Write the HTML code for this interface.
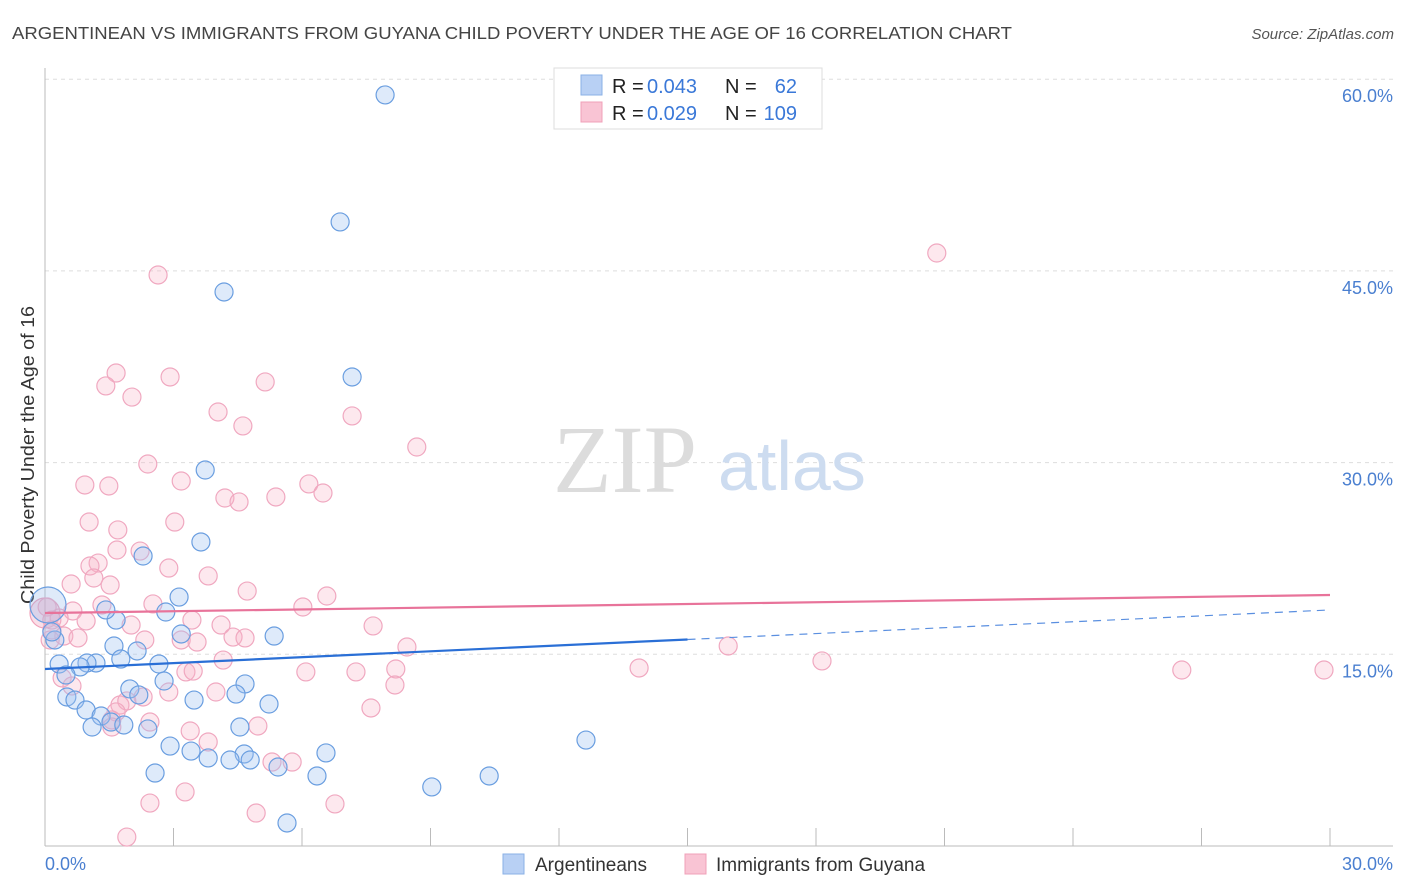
<!DOCTYPE html>
<html><head><meta charset="utf-8">
<style>
body{margin:0;background:#fff;font-family:"Liberation Sans",sans-serif;}
svg{display:block}
</style></head>
<body>
<svg width="1406" height="892" xmlns="http://www.w3.org/2000/svg" font-family="Liberation Sans, sans-serif">
<text x="12" y="39" font-size="17.5" fill="#444" textLength="1000" lengthAdjust="spacingAndGlyphs">ARGENTINEAN VS IMMIGRANTS FROM GUYANA CHILD POVERTY UNDER THE AGE OF 16 CORRELATION CHART</text>
<text x="1394" y="39" font-size="15" fill="#555" font-style="italic" text-anchor="end">Source: ZipAtlas.com</text>
<g id="grid"></g>
<g>
<text x="553" y="492" font-size="96" font-family="Liberation Serif, serif" fill="#dcdcdc">ZIP</text>
<text x="718" y="490" font-size="70" fill="#cddcf0">atlas</text>
</g>
<text transform="translate(34,455) rotate(-90)" font-size="18" fill="#333" text-anchor="middle" textLength="298" lengthAdjust="spacingAndGlyphs">Child Poverty Under the Age of 16</text>
<g id="marks"></g>
<g>
<rect x="554" y="68" width="268" height="61" fill="#fff" stroke="#ddd"/>
<rect x="581" y="75" width="21" height="20" fill="#b8d0f4" stroke="#8ab0e6"/>
<rect x="581" y="102" width="21" height="20" fill="#f9c4d4" stroke="#f0a0b8"/>
<text x="612" y="93" font-size="20" fill="#222">R =</text>
<text x="647" y="93" font-size="20" fill="#3a78d8">0.043</text>
<text x="725" y="93" font-size="20" fill="#222">N =</text>
<text x="797" y="93" font-size="20" fill="#3a78d8" text-anchor="end">62</text>
<text x="612" y="120" font-size="20" fill="#222">R =</text>
<text x="647" y="120" font-size="20" fill="#3a78d8">0.029</text>
<text x="725" y="120" font-size="20" fill="#222">N =</text>
<text x="797" y="120" font-size="20" fill="#3a78d8" text-anchor="end">109</text>
</g>
<g>
<rect x="503" y="854" width="21" height="20" fill="#b8d0f4" stroke="#8ab0e6"/>
<text x="535" y="871" font-size="19" fill="#333">Argentineans</text>
<rect x="685" y="854" width="21" height="20" fill="#f9c4d4" stroke="#f0a0b8"/>
<text x="716" y="871" font-size="19" fill="#333">Immigrants from Guyana</text>
</g>
</svg>
<script>
const yTicks=[15,30,45,60];
const yTickLabels=["15.0%","30.0%","45.0%","60.0%"];
const xTicks=[0,3,6,9,12,15,18,21,24,27,30];
const blueX=[7.94,6.89,4.18,7.17,3.74,3.64,2.29,3.13,2.82,1.66,1.42,3.18,5.35,1.61,2.15,1.77,1.19,0.33,0.98,0.82,2.66,0.49,4.67,2.78,1.98,0.51,0.70,2.19,4.46,3.48,5.23,0.96,1.31,1.54,1.10,1.84,2.40,4.55,2.92,3.41,4.65,6.56,3.81,4.32,4.79,2.57,6.35,5.44,12.63,10.37,9.03,5.65,0.23,0.16];
const blueY=[58.77,48.83,43.35,36.70,29.42,23.79,22.69,19.48,18.31,17.68,18.47,16.59,16.43,15.65,15.26,14.63,14.32,14.24,14.32,14.01,14.24,13.38,12.68,12.91,12.29,11.66,11.42,11.82,11.89,11.42,11.11,10.64,10.17,9.70,9.31,9.47,9.16,9.31,7.82,7.43,7.20,7.28,6.89,6.73,6.73,5.71,5.48,6.18,8.29,5.48,4.62,1.80,16.12,16.75];
const pinkX=[20.82,2.64,1.66,1.42,2.92,5.14,2.03,4.04,4.62,7.17,8.68,2.40,0.93,1.49,3.18,6.16,4.20,4.53,5.39,6.49,1.03,3.03,1.70,1.68,2.22,1.24,1.05,2.89,3.81,1.14,1.52,0.61,4.72,6.58,2.52,1.33,0.65,6.02,3.43,4.11,7.66,0.33,0.96,2.01,2.33,3.18,3.55,4.39,4.67,8.45,0.16,0.44,0.77,0.12,15.95,4.16,18.14,13.87,26.54,29.86,6.09,7.26,8.19,3.29,3.46,0.40,0.63,3.99,2.89,2.29,8.17,1.75,1.91,1.66,1.56,2.45,4.97,3.39,3.81,5.30,5.77,7.61,1.56,2.45,3.27,4.93,6.77,1.91,0.05,0.16];
const pinkY=[46.40,44.68,37.01,36.0,36.70,36.31,35.13,33.96,32.87,33.65,31.22,29.89,28.25,28.17,28.56,28.33,27.23,26.92,27.31,27.62,25.35,25.35,24.73,23.16,23.08,22.14,21.91,21.75,21.13,20.97,20.42,20.50,19.95,19.56,18.94,18.86,18.39,18.70,17.68,17.29,17.22,17.84,17.61,17.29,16.12,16.12,15.96,16.35,16.28,15.57,16.90,16.43,16.28,16.12,15.65,14.55,14.48,13.93,13.77,13.77,13.62,13.62,13.85,13.62,13.69,13.15,12.52,12.05,12.05,11.66,12.60,11.03,11.35,10.49,9.86,9.70,9.39,9.00,8.14,6.57,6.57,10.80,9.31,3.36,4.23,2.58,3.29,0.70,18.70,17.68];
const bigBlue=[0.07,18.86];
const bigPink=[0,18.23];
const blueTrend=[13.85,18.47];
const pinkTrend=[18.23,19.64];
const blueSolidEnd=15;

const NS="http://www.w3.org/2000/svg";
const X0=45,X1=1330,Y0=846,PX15=191.7;
const xs=v=>X0+v/30*(X1-X0);
const ys=v=>Y0-v/15*PX15;
function mk(tag,attrs,parent){const e=document.createElementNS(NS,tag);for(const k in attrs)e.setAttribute(k,attrs[k]);parent.appendChild(e);return e;}
const grid=document.getElementById('grid');
const marks=document.getElementById('marks');
yTicks.forEach((t,i)=>{
  const l=mk('line',{x1:45,x2:1393,y1:ys(t),y2:ys(t),stroke:'#ddd','stroke-dasharray':'4,4'},grid);
  
  
  const tx=mk('text',{x:1393,y:ys(t)+23,'font-size':18,fill:'#4a7fd0','text-anchor':'end'},grid);
  tx.textContent=yTickLabels[i];
  
  
});
const ax=mk('line',{x1:45,x2:1393,y1:Y0,y2:Y0,stroke:'#bbb'},grid);


const ay=mk('line',{x1:45,x2:45,y1:68,y2:Y0,stroke:'#bbb'},grid);


xTicks.forEach(t=>{
  const l=mk('line',{x1:xs(t),x2:xs(t),y1:828,y2:Y0,stroke:'#bbb'},grid);
  
  
});
const xl=mk('text',{x:45,y:870,'font-size':18,fill:'#4a7fd0'},grid);xl.textContent='0.0%';


const xr=mk('text',{x:1393,y:870,'font-size':18,fill:'#4a7fd0','text-anchor':'end'},grid);xr.textContent='30.0%';



function dot(x,y,r,fill,stroke,name){
  const c=mk('circle',{cx:xs(x),cy:ys(y),r:r,fill:fill,stroke:stroke,'stroke-width':1.2},marks);
  
  
}
dot(bigPink[0],bigPink[1],15,'rgba(240,150,180,0.3)','#f0a0b8','point-guyana');
pinkX.forEach((x,i)=>dot(x,pinkY[i],9,'rgba(248,180,200,0.3)','#f0a8c0','point-guyana'));
dot(bigBlue[0],bigBlue[1],18,'rgba(150,185,235,0.3)','#6a9ee0','point-argentinean');
blueX.forEach((x,i)=>dot(x,blueY[i],9,'rgba(160,195,240,0.35)','#6a9ee0','point-argentinean'));
const at=x=>blueTrend[0]+(blueTrend[1]-blueTrend[0])*x/30;
const bl=mk('line',{x1:xs(0),y1:ys(blueTrend[0]),x2:xs(blueSolidEnd),y2:ys(at(blueSolidEnd)),stroke:'#2a6fd6','stroke-width':2.2},marks);


const bd=mk('line',{x1:xs(blueSolidEnd),y1:ys(at(blueSolidEnd)),x2:xs(30),y2:ys(blueTrend[1]),stroke:'#5a8fe0','stroke-width':1.2,'stroke-dasharray':'8,6'},marks);


const pl=mk('line',{x1:xs(0),y1:ys(pinkTrend[0]),x2:xs(30),y2:ys(pinkTrend[1]),stroke:'#e8739a','stroke-width':2.2},marks);


</script>
</body></html>
